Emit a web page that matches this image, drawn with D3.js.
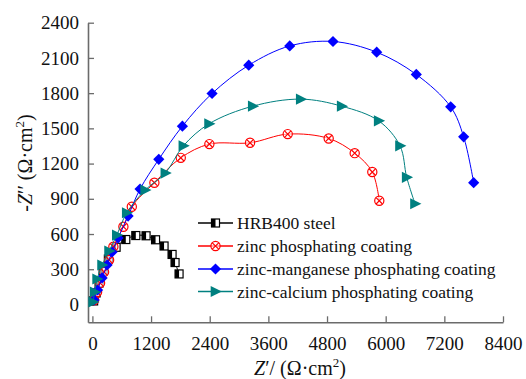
<!DOCTYPE html>
<html>
<head>
<meta charset="utf-8">
<script src="https://cdn.jsdelivr.net/npm/d3@7"></script>
<style>
  body { margin: 0; background: #fff; }
  svg text { font-family: 'Liberation Serif', 'Times New Roman', Times, 'DejaVu Serif', serif; }
</style>
</head>
<body>
<div id="chart"></div>
<script>
// Nyquist data (Z' , -Z'' in ohm.cm2)
const seriesNames = ['HRB400 steel', 'zinc phosphating coating',
  'zinc-manganese phosphating coating', 'zinc-calcium phosphating coating'];

const steelX = [25, 76, 137, 219, 327, 485, 683, 888, 1098, 1292, 1466, 1630, 1691, 1773];
const steelY = [30, 98, 183, 285, 387, 487, 553, 587, 585, 551, 498, 426, 357, 260];

const znX = [35, 96, 157, 239, 342, 429, 634, 806, 1268, 1808, 2393, 3225, 3996, 4834, 5366, 5726, 5869];
const znY = [38, 106, 183, 277, 379, 492, 662, 832, 1037, 1249, 1366, 1377, 1451, 1414, 1289, 1128, 883];

const mnX = [35, 106, 198, 301, 403, 526, 730, 975, 1358, 1841, 2448, 3198, 4037, 4922, 5816, 6626, 7330, 7595, 7800];
const mnY = [38, 123, 226, 336, 447, 566, 753, 983, 1236, 1519, 1797, 2038, 2202, 2240, 2149, 1959, 1683, 1428, 1037];

const caX = [14, 45, 96, 198, 341, 499, 703, 1078, 1493, 1861, 2387, 3280, 4262, 5100, 5857, 6293, 6430, 6600];
const caY = [21, 106, 217, 336, 455, 591, 781, 974, 1119, 1351, 1539, 1689, 1749, 1689, 1564, 1351, 1083, 858];

const xTicks = [0, 1200, 2400, 3600, 4800, 6000, 7200, 8400];
const yTicks = [0, 300, 600, 900, 1200, 1500, 1800, 2100, 2400];

const width = 526, height = 379;
const serif = "'Liberation Serif', 'Times New Roman', Times, 'DejaVu Serif', serif";
const svg = d3.select('#chart').append('svg')
  .attr('width', width).attr('height', height);

const x = d3.scaleLinear().domain([-90, 8400]).range([88, 503]);
const y = d3.scaleLinear().domain([-152, 2400]).range([322.3, 22.7]);

const axisColor = '#6b6b6b';

// axes (ticks pointing inward)
const gx = svg.append('g').attr('transform', `translate(0,${y(-152)})`)
  .call(d3.axisBottom(x).tickValues(xTicks).tickFormat(d3.format('d'))
    .tickSizeInner(-6).tickSizeOuter(0).tickPadding(14));
const gy = svg.append('g').attr('transform', `translate(${x(-90)},0)`)
  .call(d3.axisLeft(y).tickValues(yTicks).tickFormat(d3.format('d'))
    .tickSizeInner(-6).tickSizeOuter(0).tickPadding(9));

[gx, gy].forEach(g => {
  g.attr('font-family', serif).attr('font-size', 19);
  g.select('.domain').attr('stroke', axisColor).attr('stroke-width', 1.6);
  g.selectAll('.tick line').attr('stroke', axisColor).attr('stroke-width', 1.3);
  g.selectAll('.tick text').attr('fill', '#111');
});

const series = [
  { name: seriesNames[0], xs: steelX, ys: steelY, color: '#000000', marker: 'square' },
  { name: seriesNames[1], xs: znX, ys: znY, color: '#ff0000', marker: 'circlex' },
  { name: seriesNames[2], xs: mnX, ys: mnY, color: '#0000ff', marker: 'diamond' },
  { name: seriesNames[3], xs: caX, ys: caY, color: '#008080', marker: 'triangle' }
];

function drawMarker(g, type, color) {
  if (type === 'square') {
    g.append('rect').attr('x', -4).attr('y', -4).attr('width', 8).attr('height', 8)
      .attr('fill', '#fff').attr('stroke', '#000').attr('stroke-width', 1.2);
    g.append('rect').attr('x', -4).attr('y', -4).attr('width', 4).attr('height', 8)
      .attr('fill', '#000');
  } else if (type === 'circlex') {
    g.append('circle').attr('r', 4.6).attr('fill', '#fff').attr('fill-opacity', 0.6)
      .attr('stroke', color).attr('stroke-width', 1.2);
    g.append('path').attr('d', 'M-3.2,-3.2L3.2,3.2M-3.2,3.2L3.2,-3.2')
      .attr('stroke', color).attr('stroke-width', 1.2);
  } else if (type === 'diamond') {
    g.append('path').attr('d', 'M0,-5.6L5.6,0L0,5.6L-5.6,0Z').attr('fill', color);
  } else if (type === 'triangle') {
    g.append('path').attr('d', 'M-4.8,-5.6L6.4,0L-4.8,5.6Z').attr('fill', color);
  }
}

const line = d3.line().curve(d3.curveCatmullRom.alpha(0.5));

series.forEach(s => {
  const pts = s.xs.map((v, k) => [x(v), y(s.ys[k])]);
  svg.append('path').attr('d', line(pts))
    .attr('fill', 'none').attr('stroke', s.color).attr('stroke-width', 1);
  pts.forEach(p => {
    const g = svg.append('g').attr('transform', `translate(${p[0]},${p[1]})`);
    drawMarker(g, s.marker, s.color);
  });
});

// legend
const legend = svg.append('g');
const legendY = [223, 246, 269, 291.5];
series.forEach((s, i) => {
  const ly = legendY[i];
  legend.append('line').attr('x1', 198).attr('x2', 233).attr('y1', ly).attr('y2', ly)
    .attr('stroke', s.color).attr('stroke-width', 1.3);
  const g = legend.append('g').attr('transform', `translate(215.5,${ly})`);
  drawMarker(g, s.marker, s.color);
  legend.append('text').attr('x', 237).attr('y', ly + 6)
    .attr('font-size', 17.5).attr('fill', '#111').text(s.name);
});

// axis titles
const xt = svg.append('text').attr('x', 300).attr('y', 375).attr('text-anchor', 'middle')
  .attr('font-size', 20).attr('fill', '#111');
xt.append('tspan').attr('font-style', 'italic').text('Z');
xt.append('tspan').text('′/ (Ω·cm');
xt.append('tspan').attr('dy', -8).attr('font-size', 13).text('2');
xt.append('tspan').attr('dy', 8).text(')');

const yt = svg.append('text').attr('transform', 'translate(32,163) rotate(-90)')
  .attr('text-anchor', 'middle').attr('font-size', 20).attr('fill', '#111');
yt.append('tspan').text('-');
yt.append('tspan').attr('font-style', 'italic').text('Z');
yt.append('tspan').text('′′ (Ω·cm');
yt.append('tspan').attr('dy', -8).attr('font-size', 13).text('2');
yt.append('tspan').attr('dy', 8).text(')');
</script>
</body>
</html>
